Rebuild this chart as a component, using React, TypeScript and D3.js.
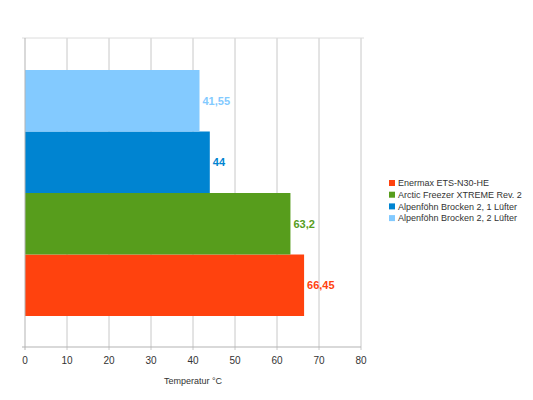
import React, { useEffect, useRef } from 'react';
import * as d3 from 'd3';

const seriesNames = [
  'Enermax ETS-N30-HE',
  'Arctic Freezer XTREME Rev. 2',
  'Alpenföhn Brocken 2, 1 Lüfter',
  'Alpenföhn Brocken 2, 2 Lüfter',
];
const seriesValues = [66.45, 63.2, 44, 41.55];
const seriesLabels = ['66,45', '63,2', '44', '41,55'];
const seriesColors = ['#ff420e', '#579d1c', '#0084d1', '#83caff'];
const xTicks = [0, 10, 20, 30, 40, 50, 60, 70, 80];

export default function App() {
  const ref = useRef<SVGSVGElement>(null);

  useEffect(() => {
    const svg = d3.select(ref.current);
    svg.selectAll('*').remove();

    const left = 25, right = 361, top = 38, bottom = 347;

    const x = d3.scaleLinear().domain([0, 80]).range([left, right]);
    // bars stacked bottom-up: first series at the bottom
    const y = d3
      .scaleBand<number>()
      .domain([3, 2, 1, 0])
      .range([top + 32, bottom - 31])
      .paddingInner(0);

    svg.append('rect').attr('width', 533).attr('height', 400).attr('fill', '#fff');

    // grid
    svg
      .selectAll('line.grid')
      .data(xTicks.slice(1))
      .enter()
      .append('line')
      .attr('x1', d => x(d))
      .attr('x2', d => x(d))
      .attr('y1', top)
      .attr('y2', bottom + 3)
      .attr('stroke', '#c8c8c8')
      .attr('stroke-width', 1);

    svg
      .append('line')
      .attr('x1', left - 3)
      .attr('x2', right + 3)
      .attr('y1', top)
      .attr('y2', top)
      .attr('stroke', '#dcdcdc');

    // bars
    svg
      .selectAll('rect.bar')
      .data(seriesValues)
      .enter()
      .append('rect')
      .attr('x', x(0))
      .attr('y', (d, i) => y(i)!)
      .attr('width', d => x(d) - x(0))
      .attr('height', y.bandwidth())
      .attr('fill', (d, i) => seriesColors[i]);

    // value labels
    svg
      .selectAll('text.val')
      .data(seriesValues)
      .enter()
      .append('text')
      .attr('x', d => x(d) + 3)
      .attr('y', (d, i) => y(i)! + y.bandwidth() / 2)
      .attr('dy', '0.35em')
      .attr('fill', (d, i) => seriesColors[i])
      .attr('font-family', 'Liberation Sans, Arial, sans-serif')
      .attr('font-weight', 'bold')
      .attr('font-size', 11)
      .text((d, i) => seriesLabels[i]);

    // axes lines
    svg
      .append('line')
      .attr('x1', left)
      .attr('x2', left)
      .attr('y1', top)
      .attr('y2', bottom + 3)
      .attr('stroke', '#b3b3b3');
    svg
      .append('line')
      .attr('x1', left - 3)
      .attr('x2', right)
      .attr('y1', bottom)
      .attr('y2', bottom)
      .attr('stroke', '#b3b3b3');

    // tick labels
    svg
      .selectAll('text.tick')
      .data(xTicks)
      .enter()
      .append('text')
      .attr('x', d => x(d))
      .attr('y', 364)
      .attr('text-anchor', 'middle')
      .attr('fill', '#333')
      .attr('font-family', 'Liberation Sans, Arial, sans-serif')
      .attr('font-size', 10)
      .text(d => d);

    svg
      .append('text')
      .attr('x', x(40))
      .attr('y', 384)
      .attr('text-anchor', 'middle')
      .attr('fill', '#333')
      .attr('font-family', 'Liberation Sans, Arial, sans-serif')
      .attr('font-size', 9)
      .text('Temperatur °C');

    // legend
    const lg = svg
      .selectAll('g.legend')
      .data(seriesNames)
      .enter()
      .append('g')
      .attr('transform', (d, i) => `translate(389, ${183 + i * 11.7})`);
    lg.append('rect')
      .attr('x', 0)
      .attr('y', -3)
      .attr('width', 6)
      .attr('height', 6)
      .attr('fill', (d, i) => seriesColors[i]);
    lg.append('text')
      .attr('x', 9)
      .attr('y', 0)
      .attr('dy', '0.35em')
      .attr('fill', '#333')
      .attr('font-family', 'Liberation Sans, Arial, sans-serif')
      .attr('font-size', 9)
      .text(d => d);
  }, []);

  return (
    <svg
      ref={ref}
      width={533}
      height={400}
      style={{ position: 'absolute', left: 0, top: 0 }}
    />
  );
}
